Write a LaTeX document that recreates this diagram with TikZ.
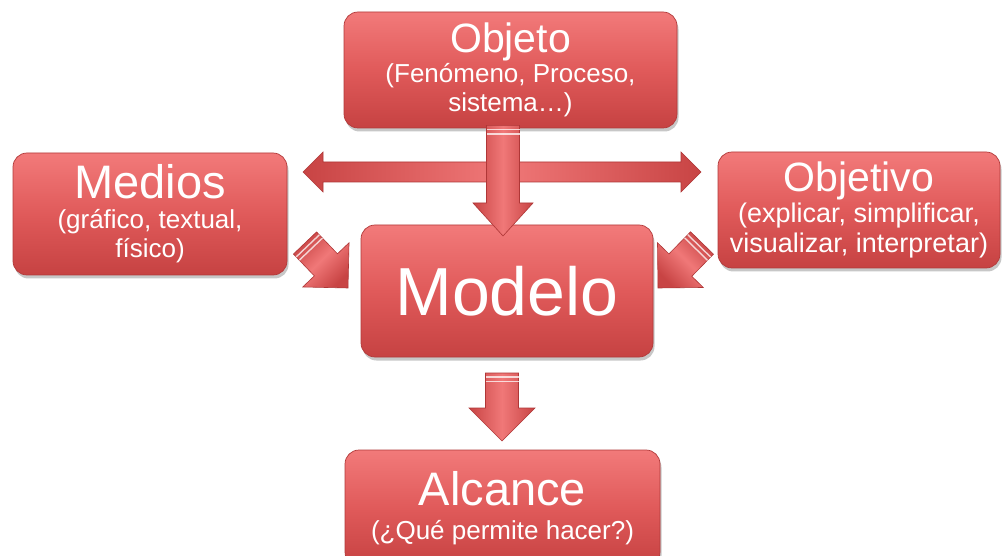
\documentclass[tikz,border=0pt]{standalone}
\usepackage{fontspec}
\setmainfont{Liberation Sans}
\usetikzlibrary{calc,shadows}
\definecolor{boxtop}{RGB}{242,122,122}
\definecolor{boxmid}{RGB}{224,90,90}
\definecolor{boxbot}{RGB}{198,66,66}
\definecolor{boxedge}{RGB}{178,58,58}
\definecolor{arlight}{RGB}{240,120,120}
\definecolor{ardark}{RGB}{200,68,68}
\definecolor{aredge}{RGB}{175,55,55}
\tikzset{
  box/.style={rounded corners=14pt, draw=boxedge, line width=0.7pt,
    top color=boxtop, bottom color=boxbot, middle color=boxmid,
    text=white, align=center, inner sep=0pt,
    font=\fontsize{26}{29.5}\selectfont,
    drop shadow={shadow xshift=1.5pt, shadow yshift=-3.5pt, fill=black, opacity=0.22}},
  arrowbody/.style={draw=aredge, line width=0.6pt, line join=miter,
    left color=ardark, right color=ardark, middle color=arlight},
  stripe/.style={draw=white, opacity=0.75, line width=1.4pt}
}
% tail, tip, shaft half, head half, head length
\newcommand\blockarrow[6][]{%
  \coordinate (bah) at ($(#3)!#6!(#2)$);
  \path[arrowbody,#1] ($(#2)!#4!90:(#3)$) -- ($(bah)!#4!90:(#3)$) -- ($(bah)!#5!90:(#3)$)
     -- (#3) -- ($(bah)!#5!-90:(#3)$) -- ($(bah)!#4!-90:(#3)$) -- ($(#2)!#4!-90:(#3)$) -- cycle;
  \coordinate (bs1) at ($(#2)!4pt!(#3)$);
  \coordinate (bs2) at ($(#2)!8.5pt!(#3)$);
  \draw[stripe] ($(bs1)!#4!90:(#3)$) -- ($(bs1)!#4!-90:(#3)$);
  \draw[stripe] ($(bs2)!#4!90:(#3)$) -- ($(bs2)!#4!-90:(#3)$);
}
% left tip, right tip, shaft half, head half, head length
\newcommand\dblarrow[6][]{%
  \coordinate (dh1) at ($(#2)!#6!(#3)$);
  \coordinate (dh2) at ($(#3)!#6!(#2)$);
  \path[arrowbody,#1] (#2) -- ($(dh1)!#5!90:(#3)$) -- ($(dh1)!#4!90:(#3)$)
    -- ($(dh2)!#4!-90:(#2)$) -- ($(dh2)!#5!-90:(#2)$) -- (#3)
    -- ($(dh2)!#5!90:(#2)$) -- ($(dh2)!#4!90:(#2)$)
    -- ($(dh1)!#4!-90:(#3)$) -- ($(dh1)!#5!-90:(#3)$) -- cycle;
}
\begin{document}
\begin{tikzpicture}[x=1pt,y=-1pt]
\useasboundingbox (0,0) rectangle (1002,556);
\fill[white] (0,0) rectangle (1002,556);

% boxes
\node[box, minimum width=333pt, minimum height=116pt] (objeto) at (510.5,70)
  {{\fontsize{41}{41}\selectfont Objeto}\\(Fenómeno, Proceso,\\sistema…)};
\node[box, minimum width=274pt, minimum height=122pt] (medios) at (150,214)
  {{\fontsize{47}{47}\selectfont Medios}\\(gráfico, textual,\\físico)};
\node[box, minimum width=282pt, minimum height=116pt, font=\fontsize{27}{30.5}\selectfont] (objetivo) at (859,210)
  {{\fontsize{41}{41}\selectfont Objetivo}\\(explicar, simplificar,\\visualizar, interpretar)};
\node[box, minimum width=292pt, minimum height=132pt, font=\fontsize{68}{68}\selectfont] (modelo) at (507,291)
  {Modelo};
\node[box, minimum width=315pt, minimum height=116pt] (alcance) at (502.5,508)
  {{\fontsize{47}{47}\selectfont Alcance}\\[4pt](¿Qué permite hacer?)};

% connector end points
\coordinate (hl) at (303,172);
\coordinate (hr) at (701,172);
\coordinate (vt0) at ([xshift=-7.5pt,yshift=3pt]objeto.south);
\coordinate (vt1) at (503,236);
\coordinate (ml0) at (305,243);
\coordinate (ml1) at (348,288);
\coordinate (mr0) at (702,243);
\coordinate (mr1) at (658,288);
\coordinate (vb0) at (502,373);
\coordinate (vb1) at (502,441);

% arrows
\dblarrow[shading angle=90]{hl}{hr}{10pt}{20pt}{20pt}
\blockarrow{vt0}{vt1}{16.5pt}{30pt}{33pt}
\blockarrow[shading angle=45]{ml0}{ml1}{16pt}{32pt}{32pt}
\blockarrow[shading angle=-45]{mr0}{mr1}{16pt}{32pt}{32pt}
\blockarrow{vb0}{vb1}{16.5pt}{33pt}{33pt}
\end{tikzpicture}
\end{document}
